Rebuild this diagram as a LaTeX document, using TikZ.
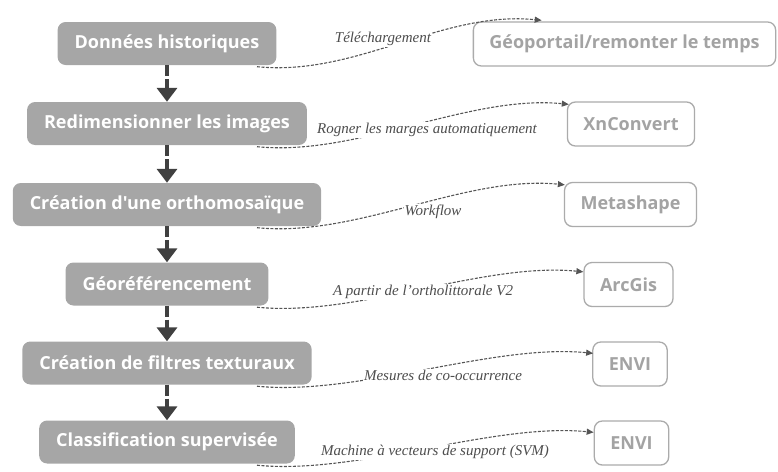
\documentclass[tikz,border=0pt]{standalone}
\usepackage{fontspec}
\setmainfont{Liberation Serif}
\newfontfamily\boitefont{Open Sans}
\usetikzlibrary{arrows.meta,calc}
\definecolor{etapegray}{HTML}{A6A6A6}
\definecolor{outilgray}{HTML}{ABABAB}
\definecolor{outiltext}{HTML}{A3A3A3}
\definecolor{flechegray}{HTML}{404040}
\definecolor{liengray}{HTML}{555555}
\definecolor{notegray}{HTML}{4D4D4D}

\begin{document}
\begin{tikzpicture}[x=1pt, y=-1pt,
    etape/.style={fill=etapegray, rounded corners=8pt, text=white, font=\boitefont\bfseries\fontsize{18}{21}\selectfont, minimum height=43pt, inner xsep=17pt},
    outil/.style={draw=outilgray, line width=1.3pt, rounded corners=8pt, fill=white, text=outiltext, font=\boitefont\bfseries\fontsize{18}{21}\selectfont, minimum height=44pt, inner xsep=16pt},
    suite/.style={-{Triangle[length=14pt,width=20pt]}, line width=4pt, color=flechegray, dash pattern=on 11pt off 3pt},
    lien/.style={-{Triangle[length=7pt,width=6pt]}, line width=1.1pt, color=liengray, dash pattern=on 3pt off 1.5pt},
    note/.style={font=\itshape\fontsize{15}{17}\selectfont, text=notegray, fill=white, inner sep=1pt}]
    \useasboundingbox (0,0) rectangle (778,471);

    % Etapes
    \foreach \i/\y/\txt in {1/43.5/Données historiques, 2/123.5/Redimensionner les images, 3/204.5/Création d'une orthomosaïque, 4/284/Géoréférencement, 5/363/Création de filtres texturaux, 6/442/Classification supervisée} {
        \node[etape] (e\i) at (167,\y) {\txt};
    }

    % Outils
    \foreach \i/\x/\y/\txt in {1/624.5/44/{Géoportail/remonter le temps}, 2/631/124/XnConvert, 3/630.5/204.5/Metashape, 4/628.5/284.5/ArcGis, 5/630/364/ENVI, 6/631.5/443/ENVI} {
        \node[outil] (o\i) at (\x,\y) {\txt};
    }

    % Fleches entre etapes
    \foreach \i/\j in {1/2, 2/3, 3/4, 4/5, 5/6} {
        \draw[suite] (e\i.south) -- (e\j.north);
    }

    % Liens vers les outils
    \foreach \i/\dx/\dy in {1/69/-1, 2/2/3, 3/1/3, 4/0/10, 5/1/12, 6/0/12} {
        \draw[lien] ([xshift=90pt,yshift=-1.5pt]e\i.south) .. controls +(100,10) and +(-100,-10) .. ($(o\i.north west)+(\dx,\dy)$);
    }

    % Textes des liens
    \foreach \i/\x/\y/\lab in {1/383/39/Téléchargement, 2/427/130/Rogner les marges automatiquement, 3/433/212/Workflow, 4/423/292/A partir de l’ortholittorale V2, 5/443/375/Mesures de co-occurrence, 6/435/452/Machine à vecteurs de support (SVM)} {
        \node[note] (n\i) at (\x,\y) {\lab};
    }
\end{tikzpicture}
\end{document}
